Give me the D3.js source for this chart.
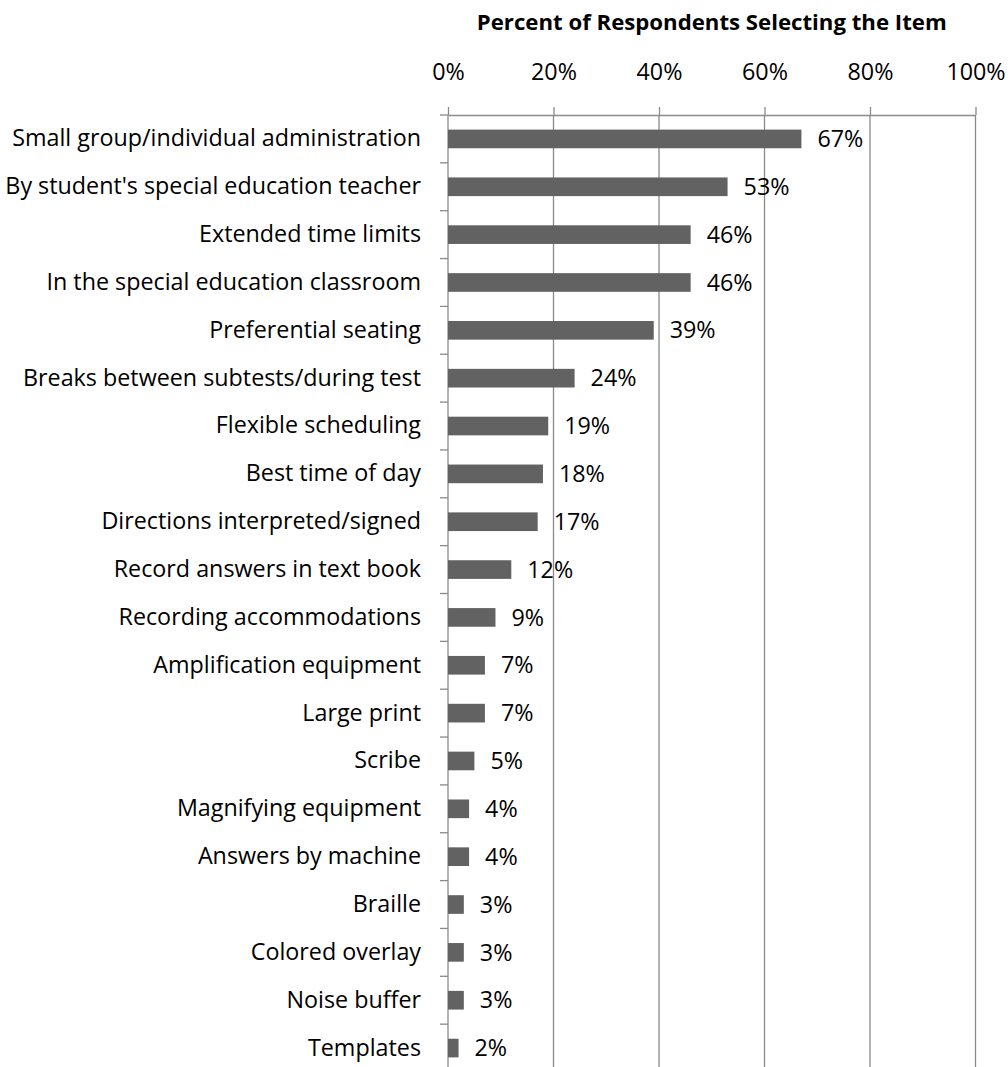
<!DOCTYPE html>
<html>
<head>
<meta charset="utf-8">
<script src="https://cdn.jsdelivr.net/npm/d3@7"></script>
<style>
  body { margin: 0; background: #fff; }
  text { font-family: "Open Sans", Lato, sans-serif; fill: #000; }
</style>
</head>
<body>
<div id="chart"></div>
<script>
// survey items, top to bottom
const items = [
  "Small group/individual administration",
  "By student's special education teacher",
  "Extended time limits",
  "In the special education classroom",
  "Preferential seating",
  "Breaks between subtests/during test",
  "Flexible scheduling",
  "Best time of day",
  "Directions interpreted/signed",
  "Record answers in text book",
  "Recording accommodations",
  "Amplification equipment",
  "Large print",
  "Scribe",
  "Magnifying equipment",
  "Answers by machine",
  "Braille",
  "Colored overlay",
  "Noise buffer",
  "Templates"
]
const pct = [67, 53, 46, 46, 39, 24, 19, 18, 17, 12, 9, 7, 7, 5, 4, 4, 3, 3, 3, 2]
const xTicks = [0, 20, 40, 60, 80, 100]

const W = 1008, H = 1067
const plotL = 448, plotR = 975.5, plotT = 115, plotB = 1072
const fontFam = "'Open Sans', Lato, sans-serif"
const fontSize = 23.3

const svg = d3.select("#chart").append("svg")
  .attr("width", W)
  .attr("height", H)

const x = d3.scaleLinear().domain([0, 100]).range([plotL, plotR])
const y = d3.scaleBand().domain(items).range([plotT, plotB])
  .paddingInner(0.61).paddingOuter(0.305)

const gridColor = "#8a8a8a"

// vertical gridlines
svg.selectAll("line.grid")
  .data(xTicks.slice(1))
  .enter().append("line")
    .attr("class", "grid")
    .attr("x1", d => x(d)).attr("x2", d => x(d))
    .attr("y1", plotT).attr("y2", plotB)
    .attr("stroke", gridColor)
    .attr("stroke-width", 1.3)

// top axis
const xAxis = svg.append("g")
  .attr("transform", `translate(0,${plotT})`)
  .call(d3.axisTop(x).tickValues(xTicks).tickFormat(d => d + "%")
    .tickSize(8).tickSizeOuter(0).tickPadding(27))
xAxis.select(".domain").attr("stroke", gridColor).attr("stroke-width", 1.3)
xAxis.selectAll(".tick line").attr("stroke", gridColor).attr("stroke-width", 1.3)
xAxis.selectAll(".tick text")
  .attr("font-family", fontFam)
  .attr("font-size", fontSize)
  .attr("fill", "#000")

// left axis (labels), ticks drawn at band boundaries below
const yAxis = svg.append("g")
  .attr("transform", `translate(${plotL},0)`)
  .call(d3.axisLeft(y).tickSize(0).tickPadding(27))
yAxis.select(".domain").remove()
yAxis.selectAll(".tick text")
  .attr("font-family", fontFam)
  .attr("font-size", fontSize)
  .attr("fill", "#000")

svg.append("line")
  .attr("x1", plotL).attr("x2", plotL)
  .attr("y1", plotT).attr("y2", plotB)
  .attr("stroke", gridColor).attr("stroke-width", 1.3)

svg.selectAll("line.ytick")
  .data(d3.range(items.length + 1))
  .enter().append("line")
    .attr("class", "ytick")
    .attr("x1", plotL - 8).attr("x2", plotL)
    .attr("y1", i => plotT + i * y.step())
    .attr("y2", i => plotT + i * y.step())
    .attr("stroke", gridColor).attr("stroke-width", 1.3)

// bars
svg.selectAll("rect.bar")
  .data(items)
  .enter().append("rect")
    .attr("class", "bar")
    .attr("x", x(0))
    .attr("y", d => y(d))
    .attr("width", (d, i) => x(pct[i]) - x(0))
    .attr("height", y.bandwidth())
    .attr("fill", "#626262")

// value labels
svg.selectAll("text.val")
  .data(items)
  .enter().append("text")
    .attr("class", "val")
    .attr("x", (d, i) => x(pct[i]) + 16)
    .attr("y", d => y(d) + y.bandwidth() / 2)
    .attr("dy", "0.35em")
    .attr("font-size", fontSize)
    .text((d, i) => pct[i] + "%")

// title
svg.append("text")
  .attr("x", (plotL + plotR) / 2)
  .attr("y", 30)
  .attr("text-anchor", "middle")
  .attr("font-size", 22.2)
  .attr("font-weight", "bold")
  .text("Percent of Respondents Selecting the Item")
</script>
</body>
</html>
